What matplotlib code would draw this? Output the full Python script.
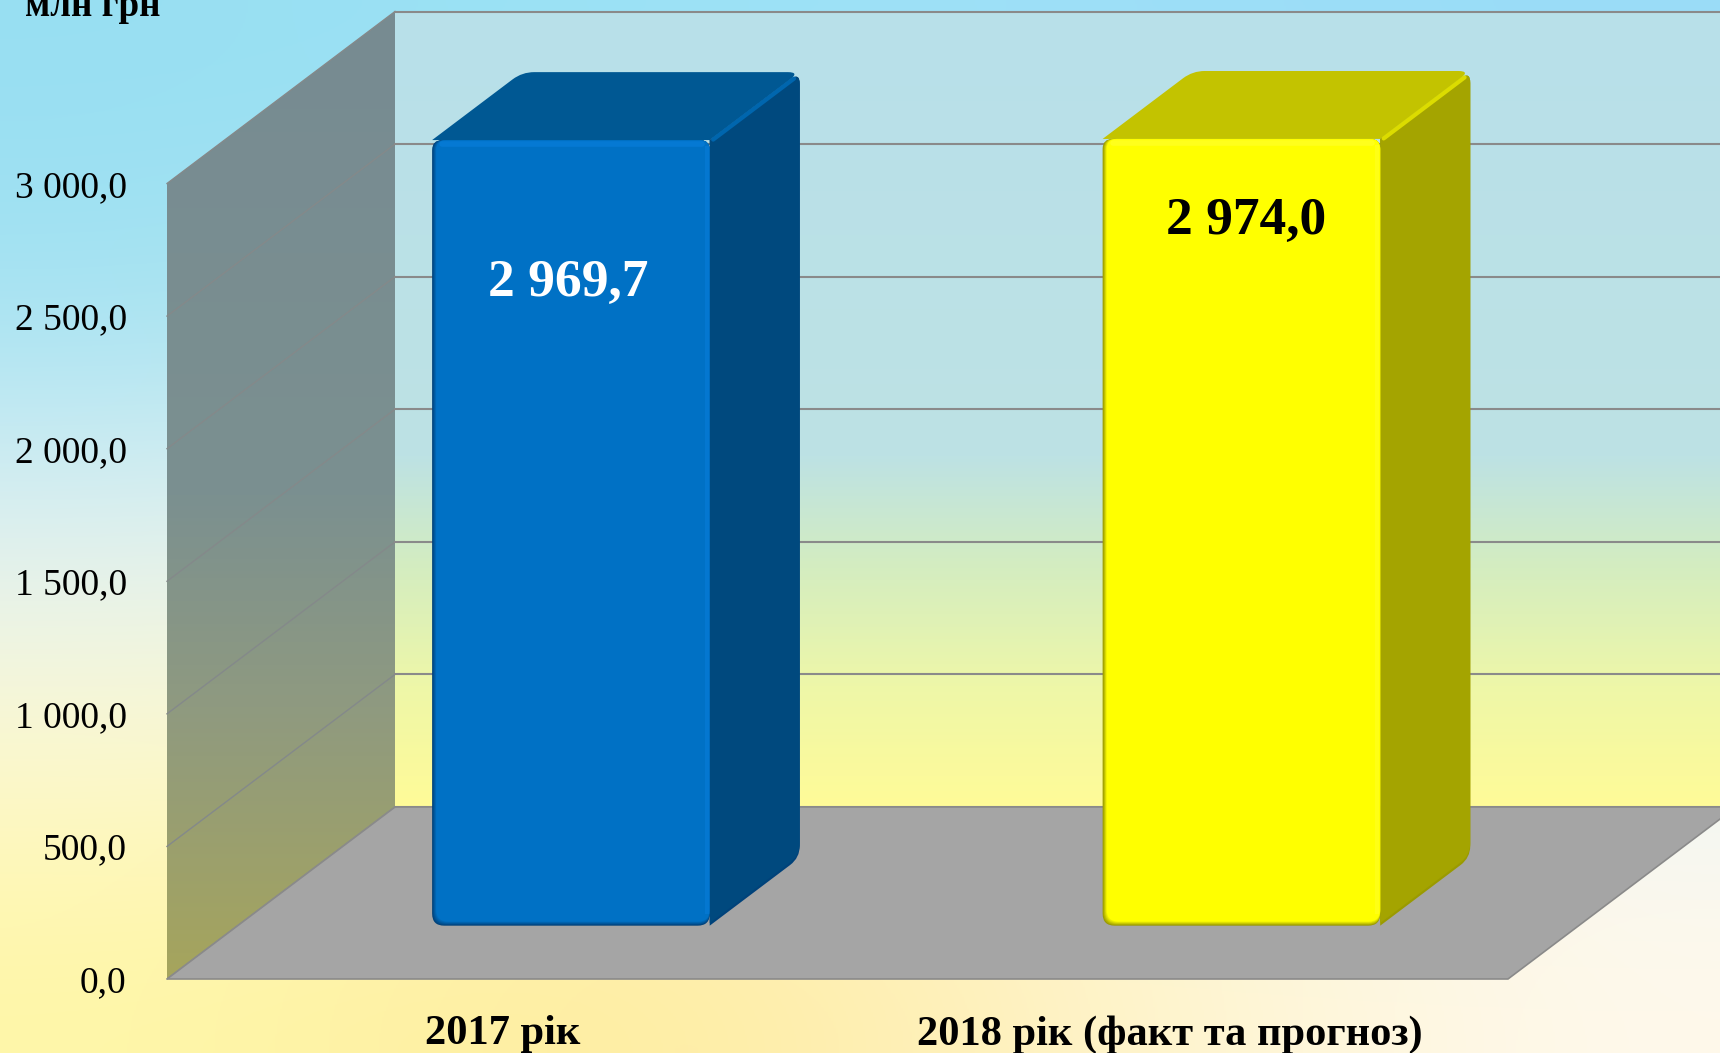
import numpy as np
import matplotlib
matplotlib.use('Agg')
import matplotlib.pyplot as plt
from matplotlib.colors import LinearSegmentedColormap, to_rgb
from matplotlib.patches import PathPatch, Polygon
from matplotlib.path import Path

plt.rcParams['font.family'] = ['Liberation Serif', 'DejaVu Serif']

categories = ['2017 рік', '2018 рік (факт та прогноз)']
values = [2969.7, 2974.0]
value_labels = ['2 969,7', '2 974,0']
y_ticks = [0, 500, 1000, 1500, 2000, 2500, 3000]
y_tick_labels = ['0,0', '500,0', '1 000,0', '1 500,0', '2 000,0', '2 500,0', '3 000,0']
unit_label = 'млн грн'

W, H = 1720, 1053
# front plane of the 3d box, in pixels
LEFT, RIGHT, BOTTOM, TOP = 167, 1508, 979, 183.5
PX_X = (RIGHT - LEFT) / 2.0   # pixels per category
PX_Y = (BOTTOM - TOP) / 3000.0  # pixels per unit
DEPTH_X = 228 / PX_X
DEPTH_Y = 172 / PX_Y
BAR_W = 0.414
BAR_SHIFT = -0.003
BEVEL = 7  # bar top sits a little under its value because of the rounded bevel
D0, D1 = 0.31, 0.705

bar_styles = [
    dict(front='#0071c5', edge='#00427a', side='#00497e', top='#005893', ridge='#0066ae', light='#0a80de', text='white'),
    dict(front='#ffff00', edge='#9a9a00', side='#a4a400', top='#c3c300', ridge='#dcdc00', light='#ffff30', text='black'),
]
label_pos = [(0.098, 2625), (1.11, 2860)]


def proj(x, v, d):
    return (x + d * DEPTH_X, v + d * DEPTH_Y)


def rounded(points, radii):
    # closed polygon with rounded corners, radii in pixels per corner
    pts = np.array(points, dtype=float)
    scale = np.array([PX_X, PX_Y])
    verts, codes = [], []
    n = len(pts)
    for i in range(n):
        p = pts[i]
        r = radii[i]
        a = (pts[i - 1] - p) * scale
        b = (pts[(i + 1) % n] - p) * scale
        start = p + a / np.hypot(*a) * r / scale
        end = p + b / np.hypot(*b) * r / scale
        verts.append(start)
        codes.append(Path.MOVETO if i == 0 else Path.LINETO)
        verts.extend([p, end])
        codes.extend([Path.CURVE3, Path.CURVE3])
    verts.append(verts[0])
    codes.append(Path.CLOSEPOLY)
    return Path(verts, codes)


def mix(c1, c2, t):
    return tuple((1 - t) * np.array(to_rgb(c1)) + t * np.array(to_rgb(c2)))


fig = plt.figure(figsize=(W / 100, H / 100), dpi=100)

# page background
bg = fig.add_axes([0, 0, 1, 1], zorder=0)
bg.axis('off')
bg_grid = [
    ['#98dff2', '#9be3f6', '#9ddff8', '#98dcf8'],
    ['#a6e3f2', '#b8e6ee', '#c0e6ee', '#c4e8f0'],
    ['#e0f0f4', '#e6f2ea', '#e6f2ea', '#e8f2ec'],
    ['#fdf9d4', '#fbf8c8', '#f6f6d8', '#eef6f8'],
    ['#fff7a8', '#ffea9c', '#fff3c4', '#fff9ec'],
]
bg_img = np.array([[to_rgb(c) for c in row] for row in bg_grid])
bg.imshow(bg_img, extent=[0, W, H, 0], aspect='auto', interpolation='bicubic')
bg.set_xlim(0, W)
bg.set_ylim(H, 0)

ax = fig.add_axes([LEFT / W, 1 - BOTTOM / H, (RIGHT - LEFT) / W, (BOTTOM - TOP) / H], zorder=1)
ax.patch.set_visible(False)
xmin, xmax = -0.5, 1.5
ymin, ymax = 0, 3000

wall_back = LinearSegmentedColormap.from_list('back', [
    (0, '#b8e0ea'), (0.56, '#bde2e4'), (0.70, '#d4edc0'), (0.85, '#eef7a8'), (1, '#fffb98')])
wall_left = LinearSegmentedColormap.from_list('left', [
    (0, '#778b92'), (0.5, '#7b9090'), (0.72, '#8f9a80'), (1, '#a6a55c')])
ramp = np.linspace(0, 1, 256).reshape(-1, 1)

# back wall
x0b, v0b = proj(xmin, 0, 1)
x1b, v1b = proj(xmax, 3000, 1)
ax.imshow(ramp, cmap=wall_back, extent=[x0b, x1b, v0b, v1b], aspect='auto', origin='upper',
          clip_on=False, zorder=1)

# left wall
wall_pts = [proj(xmin, 0, 0), proj(xmin, 0, 1), proj(xmin, 3000, 1), proj(xmin, 3000, 0)]
wall_patch = Polygon(wall_pts, closed=True, fc='none', ec='none', transform=ax.transData, clip_on=False)
ax.add_patch(wall_patch)
wall_im = ax.imshow(ramp, cmap=wall_left, extent=[xmin, x0b, 0, v1b], aspect='auto', origin='upper',
                    zorder=1.5)
wall_im.set_clip_box(fig.bbox)
wall_im.set_clip_path(wall_patch)

# gridlines on both walls
for t in y_ticks:
    a, b = proj(xmin, t, 0), proj(xmin, t, 1)
    c = proj(xmax, t, 1)
    ax.plot([a[0], b[0]], [a[1], b[1]], color='#84898a', lw=1.0, clip_on=False, zorder=2)
    ax.plot([b[0], c[0]], [b[1], c[1]], color='#8a8a8a', lw=1.5, clip_on=False, zorder=2)

# floor
floor_pts = [proj(xmin, 0, 0), proj(xmax, 0, 0), proj(xmax, 0, 1), proj(xmin, 0, 1)]
ax.add_patch(Polygon(floor_pts, closed=True, fc='#a5a5a5', ec='#8a8a8a', lw=1.2, clip_on=False, zorder=3))

# bars
for i, (value, st) in enumerate(zip(values, bar_styles)):
    val = value - BEVEL
    xl, xr = i + BAR_SHIFT - BAR_W / 2, i + BAR_SHIFT + BAR_W / 2
    top_pts = [proj(xl, val, D0), proj(xl, val, D1), proj(xr, val, D1), proj(xr, val, D0)]
    ax.add_patch(PathPatch(rounded(top_pts, [0, 12, 12, 0]), fc=st['top'], ec='none', clip_on=False, zorder=4))

    side_pts = [proj(xr, 0, D0), proj(xr, 0, D1), proj(xr, val, D1), proj(xr, val, D0)]
    ax.add_patch(PathPatch(rounded(side_pts, [0, 12, 12, 0]), fc=st['edge'], ec='none', clip_on=False, zorder=4.1))
    inner = [proj(xr, 10, D0), proj(xr, 10, D1), proj(xr, val, D1), proj(xr, val, D0)]
    ax.add_patch(PathPatch(rounded(inner, [0, 12, 12, 0]), fc=st['side'], ec='none', clip_on=False, zorder=4.2))
    r0, r1 = proj(xr, val, D0 + 0.015), proj(xr, val, D1 - 0.025)
    ax.plot([r0[0], r1[0]], [r0[1] - 8, r1[1] - 8], color=st['ridge'], lw=3.0, clip_on=False,
            solid_capstyle='round', zorder=4.3)

    # front face, soft bevel made of a few insets on the left and the bottom
    steps = 6
    for k in range(steps):
        t = k / (steps - 1)
        dx, dv = k * 0.8 / PX_X, k * 0.8 / PX_Y
        fx, fb = proj(xl + dx, dv, D0)
        fx2, ft = proj(xr, val, D0)
        pts = [(fx, fb), (fx2, fb), (fx2, ft), (fx, ft)]
        ax.add_patch(PathPatch(rounded(pts, [12, 12, 10, 10]), fc=mix(st['edge'], st['front'], t), ec='none',
                               clip_on=False, zorder=5 + k * 0.01))
    # light bevel along top and right of the front face
    fx, ft = proj(xl + 4 / PX_X, val, D0)
    fx2, fb = proj(xr, 4 / PX_Y, D0)
    ax.plot([fx + 6 / PX_X, fx2 - 8 / PX_X], [ft - 4 / PX_Y, ft - 4 / PX_Y], color=st['light'], lw=4,
            alpha=0.6, solid_capstyle='round', clip_on=False, zorder=5.2)
    ax.plot([fx2 - 3 / PX_X, fx2 - 3 / PX_X], [fb + 10 / PX_Y, ft - 8 / PX_Y], color=st['light'], lw=3,
            alpha=0.45, clip_on=False, zorder=5.2)

    ax.text(label_pos[i][0], label_pos[i][1], value_labels[i], color=st['text'], fontsize=38.5,
            fontweight='bold', ha='center', va='center', zorder=6)

ax.set_xlim(xmin, xmax)
ax.set_ylim(ymin, ymax)
ax.set_xticks([0, 0.996])
ax.set_xticklabels(categories, fontsize=30.6, fontweight='bold', color='black')
ax.set_yticks(y_ticks)
ax.set_yticklabels(y_tick_labels, fontsize=27, color='black')
ax.tick_params(axis='y', length=0, pad=29)
ax.tick_params(axis='x', length=0, pad=26)
for s in ax.spines.values():
    s.set_visible(False)

fig.text(25 / W, 1 - 16 / H, unit_label, fontsize=26.7, fontweight='bold', ha='left', va='baseline', color='black')

fig.savefig('out.png', dpi=100)
